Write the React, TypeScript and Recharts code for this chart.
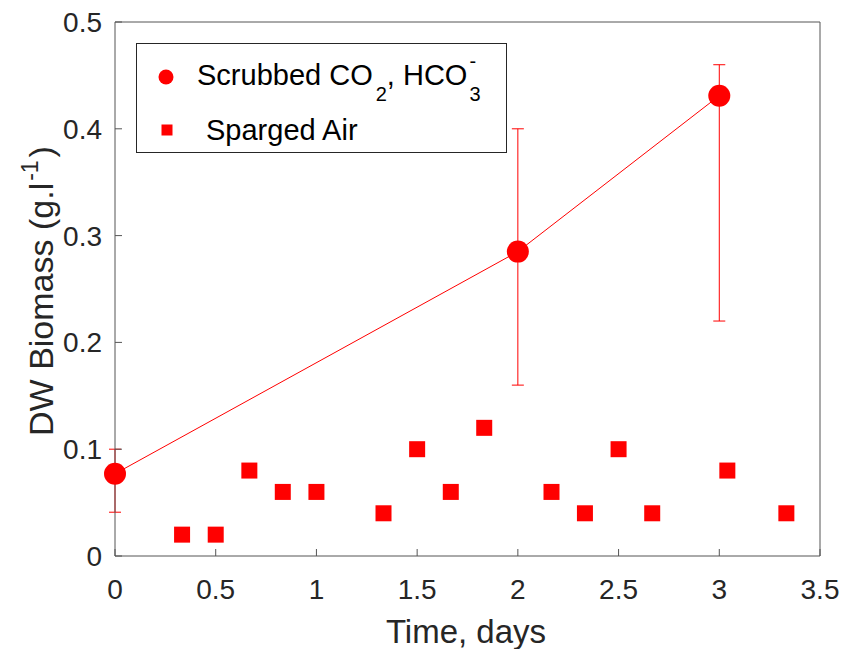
import React from "react";
import { ComposedChart, Scatter, XAxis, YAxis, ErrorBar, Legend } from "recharts";

// Scrubbed CO2 / HCO3- series (mean with asymmetric error)
const scrubbedDays = [0, 2, 3];
const scrubbedBiomass = [0.077, 0.285, 0.431];
const scrubbedErrLow = [0.036, 0.125, 0.211];
const scrubbedErrHigh = [0.023, 0.115, 0.029];

// Sparged air series
const spargedDays = [0.333, 0.5, 0.667, 0.833, 1.0, 1.333, 1.5, 1.667, 1.833, 2.167, 2.333, 2.5, 2.667, 3.04, 3.333];
const spargedBiomass = [0.02, 0.02, 0.08, 0.06, 0.06, 0.04, 0.1, 0.06, 0.12, 0.06, 0.04, 0.1, 0.04, 0.08, 0.04];

const xTicks = [0, 0.5, 1, 1.5, 2, 2.5, 3, 3.5];
const yTicks = [0, 0.1, 0.2, 0.3, 0.4, 0.5];

const scrubbedData = scrubbedDays.map((x, i) => ({
  x,
  y: scrubbedBiomass[i],
  err: [scrubbedErrLow[i], scrubbedErrHigh[i]],
}));
const spargedData = spargedDays.map((x, i) => ({ x, y: spargedBiomass[i] }));

const FONT = '"Liberation Sans", Arial, Helvetica, sans-serif';
const INK = "#262626";
const AXIS = "#555555";
const RED = "#ff0000";

const BottomTick = (props: any) => {
  const { x, y, payload } = props;
  return (
    <g>
      <line x1={x} y1={y} x2={x} y2={y - 7} stroke={AXIS} />
      <text x={x} y={y + 43} textAnchor="middle" fontSize={28} fill={INK} fontFamily={FONT}>
        {String(payload.value)}
      </text>
    </g>
  );
};

const TopTick = (props: any) => {
  const { x, y } = props;
  return <line x1={x} y1={y} x2={x} y2={y + 7} stroke={AXIS} />;
};

const LeftTick = (props: any) => {
  const { x, y, payload } = props;
  return (
    <g>
      <line x1={x} y1={y} x2={x + 7} y2={y} stroke={AXIS} />
      <text x={x - 13} y={y + 10} textAnchor="end" fontSize={28} fill={INK} fontFamily={FONT}>
        {String(payload.value)}
      </text>
    </g>
  );
};

const RightTick = (props: any) => {
  const { x, y } = props;
  return <line x1={x} y1={y} x2={x - 7} y2={y} stroke={AXIS} />;
};

const XLabel = () => (
  <text x={466} y={643} textAnchor="middle" fontSize={33} fill={INK} fontFamily={FONT}>
    Time, days
  </text>
);

const YLabel = () => (
  <text
    transform="translate(53,291) rotate(-90)"
    textAnchor="middle"
    fontSize={34}
    fill={INK}
    fontFamily={FONT}
  >
    DW Biomass (g.l
    <tspan dx={2} dy={-15} fontSize={23}>-1</tspan>
    <tspan dx={3} dy={15}>)</tspan>
  </text>
);

const CircleMark = (props: any) => <circle cx={props.cx} cy={props.cy} r={11} fill={RED} />;
const SquareMark = (props: any) => (
  <rect x={props.cx - 8} y={props.cy - 8} width={16} height={16} fill={RED} />
);

const LegendBox = () => (
  <svg width={371} height={110} style={{ display: "block" }}>
    <rect x={0.5} y={0.5} width={370} height={109} fill="#fff" stroke={INK} />
    <circle cx={30} cy={34} r={7.5} fill={RED} />
    <text x={61} y={42} fontSize={29} fill="#000" fontFamily={FONT}>
      Scrubbed CO
      <tspan dx={3} dy={16} fontSize={20}>2</tspan>
      <tspan dy={-16}>, HCO</tspan>
      <tspan dx={2} dy={16} fontSize={20}>3</tspan>
      <tspan dx={-11} dy={-33} fontSize={20}>-</tspan>
    </text>
    <rect x={25.5} y={81.5} width={11} height={11} fill={RED} />
    <text x={70} y={97} fontSize={29} fill="#000" fontFamily={FONT}>
      Sparged Air
    </text>
  </svg>
);

export default function App() {
  return (
    <div style={{ position: "absolute", left: 0, top: 0, background: "#fff" }}>
      <ComposedChart width={842} height={649} margin={{ top: 21, right: 21, bottom: 92, left: 114 }}>
        <XAxis
          xAxisId="b"
          type="number"
          dataKey="x"
          domain={[0, 3.5]}
          ticks={xTicks}
          interval={0}
          height={1}
          tickSize={0}
          tickMargin={0}
          axisLine={{ stroke: AXIS }}
          tickLine={false}
          tick={<BottomTick />}
          label={<XLabel />}
        />
        <XAxis
          xAxisId="t"
          orientation="top"
          type="number"
          domain={[0, 3.5]}
          ticks={xTicks}
          interval={0}
          height={1}
          tickSize={0}
          tickMargin={0}
          axisLine={{ stroke: AXIS }}
          tickLine={false}
          tick={<TopTick />}
        />
        <YAxis
          yAxisId="l"
          type="number"
          dataKey="y"
          domain={[0, 0.5]}
          ticks={yTicks}
          interval={0}
          width={1}
          tickSize={0}
          tickMargin={0}
          axisLine={{ stroke: AXIS }}
          tickLine={false}
          tick={<LeftTick />}
          label={<YLabel />}
        />
        <YAxis
          yAxisId="r"
          orientation="right"
          type="number"
          domain={[0, 0.5]}
          ticks={yTicks}
          interval={0}
          width={1}
          tickSize={0}
          tickMargin={0}
          axisLine={{ stroke: AXIS }}
          tickLine={false}
          tick={<RightTick />}
        />
        <Scatter
          xAxisId="b"
          yAxisId="l"
          name="Sparged Air"
          data={spargedData}
          fill={RED}
          shape={<SquareMark />}
          isAnimationActive={false}
        />
        <Scatter
          xAxisId="b"
          yAxisId="l"
          name="Scrubbed CO2, HCO3-"
          data={scrubbedData}
          fill={RED}
          line={{ stroke: RED, strokeWidth: 1 }}
          lineType="joint"
          shape={<CircleMark />}
          isAnimationActive={false}
        >
          <ErrorBar dataKey="err" direction="y" width={6} stroke={RED} strokeWidth={1} isAnimationActive={false} />
        </Scatter>
        <Legend
          verticalAlign="middle"
          align="center"
          wrapperStyle={{ left: 136, top: 43, width: 371, height: 110 }}
          content={<LegendBox />}
        />
      </ComposedChart>
    </div>
  );
}
